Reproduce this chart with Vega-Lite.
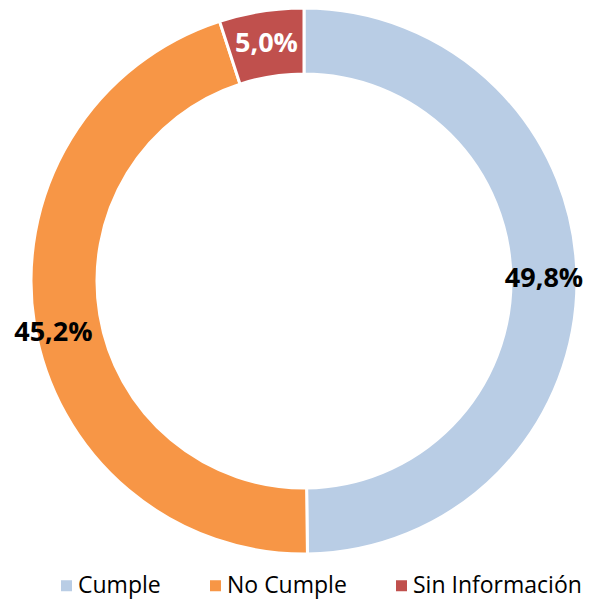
{
  "$schema": "https://vega.github.io/schema/vega-lite/v6.json",
  "width": 546,
  "height": 548,
  "autosize": {"type": "none"},
  "padding": {"left": 31, "top": 7, "right": 12, "bottom": 44},
  "background": "white",
  "config": {"view": {"stroke": null}},
  "data": {
    "values": [
      {"category": "Cumple", "value": 49.8, "label": "49,8%", "order": 1},
      {"category": "No Cumple", "value": 45.2, "label": "45,2%", "order": 2},
      {"category": "Sin Información", "value": 5.0, "label": "5,0%", "order": 3}
    ]
  },
  "encoding": {
    "theta": {"field": "value", "type": "quantitative", "stack": true},
    "order": {"field": "order", "type": "quantitative"}
  },
  "layer": [
    {
      "mark": {"type": "arc", "outerRadius": 273, "innerRadius": 207, "stroke": "white", "strokeWidth": 3},
      "encoding": {
        "color": {
          "field": "category",
          "type": "nominal",
          "sort": ["Cumple", "No Cumple", "Sin Información"],
          "scale": {"domain": ["Cumple", "No Cumple", "Sin Información"], "range": ["#B9CDE5", "#F79646", "#C0504D"]},
          "legend": {
            "title": null,
            "orient": "none",
            "direction": "horizontal",
            "legendX": 24,
            "legendY": 567,
            "symbolType": "square",
            "symbolSize": 121,
            "symbolStrokeWidth": 0,
            "labelFont": "Open Sans",
            "labelFontSize": 23,
            "labelColor": "#000000",
            "labelOffset": 0,
            "labelLimit": 300,
            "columnPadding": 43
          }
        }
      }
    },
    {
      "mark": {"type": "text", "radius": 240, "font": "Open Sans", "fontWeight": "bold", "fontSize": 27},
      "encoding": {
        "text": {"condition": {"test": "datum.category !== 'No Cumple'", "field": "label"}, "value": ""},
        "color": {
          "field": "category",
          "type": "nominal",
          "scale": {"domain": ["Cumple", "No Cumple", "Sin Información"], "range": ["#000000", "#000000", "#FFFFFF"]},
          "legend": null
        }
      }
    },
    {
      "mark": {"type": "text", "radius": 256, "thetaOffset": -0.042, "font": "Open Sans", "fontWeight": "bold", "fontSize": 27, "color": "#000000"},
      "encoding": {
        "text": {"condition": {"test": "datum.category === 'No Cumple'", "field": "label"}, "value": ""}
      }
    }
  ],
  "resolve": {"scale": {"color": "independent"}}
}
